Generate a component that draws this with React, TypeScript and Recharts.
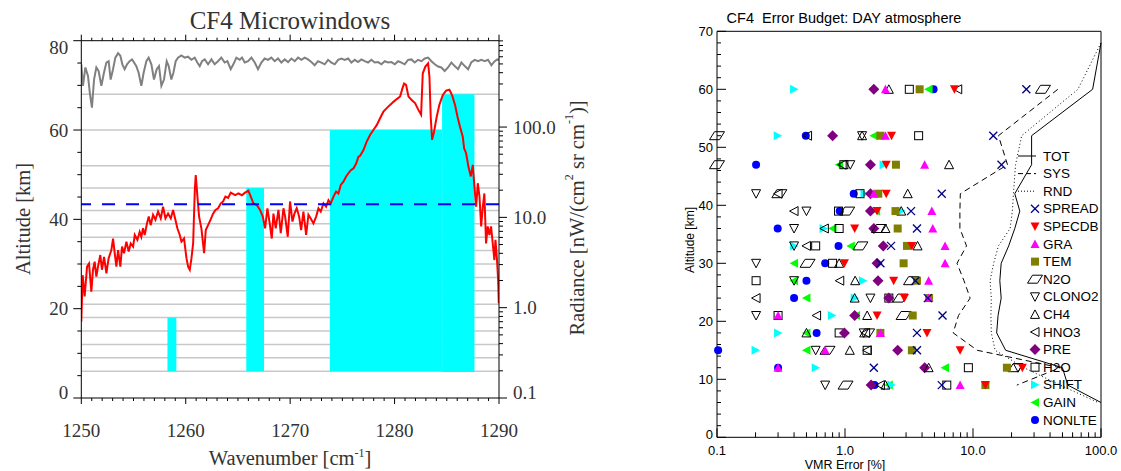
import React from 'react';
import {
  ComposedChart,
  Line,
  XAxis,
  YAxis,
  ReferenceArea,
  ReferenceLine,
  Scatter,
  Legend,
  CartesianGrid,
} from 'recharts';

// ======================= LEFT PANEL DATA =======================
const wnTicks = Array.from({ length: 41 }, (_, i) => 1250 + i);
const wnMajor = [1250, 1260, 1270, 1280, 1290];
const altTicks = [0, 5, 10, 15, 20, 25, 30, 35, 40, 45, 50, 55, 60, 65, 70, 75, 80];
const altMajor = [0, 20, 40, 60, 80];
const radTicks = [
  0.1, 0.2, 0.3, 0.4, 0.5, 0.6, 0.7, 0.8, 0.9,
  1, 2, 3, 4, 5, 6, 7, 8, 9,
  10, 20, 30, 40, 50, 60, 70, 80, 90,
  100, 200, 300, 400, 500, 600, 700, 800, 900,
];
const radDecades = [0.1, 1, 10, 100];
const radDecadeLabels = ['0.1', '1.0', '10.0', '100.0'];
const tangentAltitudes = [6, 9, 12, 15, 18, 21, 24, 27, 30, 33, 36, 39, 42, 47, 52, 60, 68];
const windowFrom = [1258.25, 1265.8, 1273.8, 1284.55];
const windowTo = [1259.1, 1267.5, 1284.55, 1287.65];
const windowBottom = [6, 6, 6, 5.8];
const windowTop = [18, 47, 60, 68];
const noiseLevel = 14;

// CF4 radiance spectrum [wavenumber, nW/(cm2 sr cm-1)]
const cf4Spectrum: [number, number][] = [
  [1250.0, 0.7], [1250.13, 2.29], [1250.32, 1.33], [1250.55, 2.85], [1250.74, 3.08], [1250.96, 1.5],
  [1251.12, 2.63], [1251.28, 3.23], [1251.44, 2.21], [1251.6, 2.85], [1251.82, 3.83], [1251.98, 2.63],
  [1252.18, 3.66], [1252.4, 2.4], [1252.62, 3.53], [1252.88, 4.34], [1253.04, 5.83], [1253.2, 4.01],
  [1253.36, 2.85], [1253.52, 4.34], [1253.74, 2.85], [1253.9, 4.75], [1254.09, 4.01], [1254.32, 5.38],
  [1254.54, 4.19], [1254.73, 5.14], [1254.96, 4.75], [1255.12, 6.38], [1255.37, 5.64], [1255.59, 6.92],
  [1255.75, 6.1], [1255.91, 7.57], [1256.07, 6.38], [1256.29, 8.58], [1256.46, 10.2], [1256.65, 8.2],
  [1256.87, 10.7], [1257.1, 9.4], [1257.35, 11.6], [1257.61, 9.73], [1257.83, 13.1], [1258.06, 9.73],
  [1258.31, 11.0], [1258.57, 9.73], [1258.79, 12.1], [1259.01, 9.4], [1259.2, 7.57], [1259.43, 6.38],
  [1259.59, 5.38], [1259.84, 5.83], [1260.07, 3.53], [1260.23, 2.85], [1260.39, 2.63], [1260.55, 3.53],
  [1260.71, 5.14], [1260.87, 20.2], [1260.96, 29.4], [1261.12, 17.0], [1261.28, 10.2], [1261.5, 7.57],
  [1261.76, 4.01], [1261.92, 7.24], [1262.14, 8.2], [1262.37, 9.4], [1262.62, 11.0], [1262.85, 12.1],
  [1263.1, 12.6], [1263.36, 14.3], [1263.58, 15.0], [1263.8, 17.0], [1264.06, 16.4], [1264.31, 18.8],
  [1264.73, 17.6], [1265.05, 18.4], [1265.37, 17.6], [1265.68, 18.8], [1266.0, 19.7], [1266.23, 17.0],
  [1266.48, 14.3], [1266.8, 13.7], [1267.12, 12.1], [1267.38, 10.2], [1267.6, 7.57], [1267.82, 12.6],
  [1268.02, 8.99], [1268.24, 5.83], [1268.4, 11.0], [1268.62, 7.57], [1268.88, 12.1], [1269.1, 6.68],
  [1269.36, 12.6], [1269.52, 10.2], [1269.77, 6.1], [1269.99, 15.0], [1270.22, 8.99], [1270.41, 11.0],
  [1270.63, 12.6], [1270.86, 10.2], [1271.05, 7.24], [1271.27, 11.6], [1271.53, 6.38], [1271.75, 10.7],
  [1271.97, 9.73], [1272.23, 8.58], [1272.49, 10.2], [1272.71, 12.6], [1272.93, 11.6], [1273.19, 14.3],
  [1273.44, 13.1], [1273.67, 15.5], [1273.89, 14.3], [1274.15, 17.0], [1274.4, 19.3], [1274.62, 18.4],
  [1274.85, 22.9], [1275.1, 24.8], [1275.36, 28.4], [1275.58, 30.8], [1275.81, 33.3], [1276.06, 34.8],
  [1276.32, 39.5], [1276.54, 46.9], [1276.7, 48.0], [1277.02, 55.6], [1277.33, 69.0], [1277.65, 81.8],
  [1277.97, 92.9], [1278.29, 105], [1278.61, 125], [1278.93, 148], [1279.25, 162], [1279.57, 176],
  [1279.89, 190], [1280.21, 204], [1280.53, 218], [1280.75, 268], [1280.91, 303], [1281.1, 293],
  [1281.33, 218], [1281.64, 199], [1281.96, 184], [1282.28, 155], [1282.54, 137], [1282.7, 394],
  [1282.95, 468], [1283.21, 507], [1283.34, 360], [1283.46, 131], [1283.59, 72.3], [1283.78, 88.7],
  [1284.04, 131], [1284.29, 176], [1284.61, 225], [1284.93, 253], [1285.25, 259], [1285.51, 225],
  [1285.79, 176], [1286.02, 131], [1286.27, 100], [1286.53, 78.2], [1286.66, 58.2], [1286.85, 51.3],
  [1287.07, 36.5], [1287.3, 28.4], [1287.49, 38.2], [1287.65, 21.8], [1287.81, 13.1], [1287.97, 23.9],
  [1288.13, 17.0], [1288.29, 7.93], [1288.45, 13.1], [1288.6, 18.4], [1288.76, 5.14], [1288.92, 7.93],
  [1289.08, 6.38], [1289.24, 7.93], [1289.4, 5.14], [1289.56, 3.37], [1289.66, 5.64], [1289.79, 3.66],
  [1289.92, 2.02], [1289.98, 1.12],
];

// Total atmospheric radiance [wavenumber, nW/(cm2 sr cm-1)]
const atmSpectrum: [number, number][] = [
  [1250.0, 495], [1250.16, 286], [1250.39, 457], [1250.64, 368], [1250.83, 231], [1251.02, 164],
  [1251.22, 336], [1251.44, 457], [1251.66, 417], [1251.92, 286], [1252.17, 399], [1252.4, 518],
  [1252.62, 536], [1252.81, 336], [1253.04, 437], [1253.26, 587], [1253.52, 658], [1253.74, 615],
  [1253.93, 495], [1254.15, 437], [1254.38, 495], [1254.63, 536], [1254.86, 561], [1255.05, 518],
  [1255.27, 473], [1255.49, 399], [1255.75, 286], [1255.97, 399], [1256.23, 536], [1256.45, 587],
  [1256.71, 495], [1256.96, 336], [1257.22, 437], [1257.44, 473], [1257.67, 286], [1257.92, 336],
  [1258.18, 536], [1258.37, 473], [1258.62, 336], [1258.82, 399], [1259.04, 536], [1259.26, 587],
  [1259.58, 622], [1259.9, 587], [1260.22, 601], [1260.54, 555], [1260.86, 587], [1261.11, 518],
  [1261.34, 473], [1261.56, 536], [1261.82, 561], [1262.14, 495], [1262.46, 561], [1262.77, 495],
  [1263.09, 536], [1263.41, 587], [1263.73, 518], [1263.99, 536], [1264.31, 437], [1264.56, 495],
  [1264.85, 587], [1265.17, 555], [1265.39, 587], [1265.65, 518], [1265.97, 536], [1266.29, 587],
  [1266.61, 518], [1266.92, 437], [1267.24, 518], [1267.56, 574], [1267.88, 555], [1268.2, 587],
  [1268.52, 536], [1268.84, 574], [1269.16, 518], [1269.48, 561], [1269.8, 524], [1270.12, 574],
  [1270.44, 536], [1270.76, 587], [1271.08, 555], [1271.39, 587], [1271.71, 561], [1272.03, 524],
  [1272.35, 484], [1272.67, 536], [1272.99, 518], [1273.31, 495], [1273.63, 555], [1273.95, 518],
  [1274.27, 495], [1274.59, 555], [1274.91, 574], [1275.23, 555], [1275.55, 574], [1275.87, 518],
  [1276.19, 555], [1276.5, 524], [1276.82, 561], [1277.14, 536], [1277.46, 518], [1277.78, 555],
  [1278.1, 518], [1278.42, 524], [1278.74, 495], [1279.06, 536], [1279.38, 518], [1279.7, 524],
  [1280.02, 495], [1280.34, 536], [1280.66, 518], [1280.97, 495], [1281.29, 555], [1281.61, 561],
  [1281.93, 518], [1282.25, 555], [1282.57, 536], [1282.89, 574], [1283.21, 587], [1283.53, 536],
  [1283.85, 495], [1284.17, 468], [1284.48, 457], [1284.8, 417], [1285.12, 457], [1285.44, 518],
  [1285.76, 473], [1286.08, 437], [1286.4, 518], [1286.72, 473], [1287.04, 437], [1287.36, 524],
  [1287.68, 555], [1287.99, 536], [1288.31, 555], [1288.63, 536], [1288.95, 555], [1289.27, 484],
  [1289.59, 536], [1289.85, 561], [1290.0, 555],
];

// ======================= RIGHT PANEL DATA =======================
const errAltTicks = Array.from({ length: 36 }, (_, i) => i * 2);
const errAltMajor = [0, 10, 20, 30, 40, 50, 60, 70];
const errTicks = [
  0.1, 0.2, 0.3, 0.4, 0.5, 0.6, 0.7, 0.8, 0.9,
  1, 2, 3, 4, 5, 6, 7, 8, 9,
  10, 20, 30, 40, 50, 60, 70, 80, 90, 100,
];
const errDecades = [0.1, 1, 10, 100];
const errDecadeLabels = ['0.1', '1.0', '10.0', '100.0'];

const profileAlt = [68, 60, 52, 47, 42, 39, 36, 33, 30, 27, 24, 21, 18, 15, 12, 9, 6];
const totError = [100, 86, 28.7, 28.7, 21.2, 23.2, 21.2, 19.0, 16.6, 16.2, 16.6, 15.7, 15.3, 18.0, 50, 55, 100];
const sysError = [null, 46, 15.8, 18.6, 7.96, 7.9, 7.9, 8.9, 7.5, 8.5, 9.5, 7.7, 7.0, 10.8, 48, 22, null];
const rndError = [100, 66, 24, 21.5, 20.7, 20.3, 19.5, 15.8, 14.5, 13.6, 13.9, 13.8, 13.9, 14.9, 25, 48, 95];

const rowAlt = [60, 52, 47, 42, 39, 36, 33, 30, 27, 24, 21, 18, 15, 12, 9];
const SPREAD = [26.1, 14.4, 16.7, 5.7, 3.28, 3.65, 2.29, 1.89, 3.55, 4.44, 5.78, 3.65, 3.65, 1.68, 5.7];
const SPECDB = [7.16, 2.31, 2.1, 2.1, 1.78, 1.19, 3.33, 0.99, 2.4, 2.91, 1.78, 4.37, 7.93, 24.3, 12.5];
const GRA = [2.07, 2.07, 4.19, 1.68, 4.77, 4.85, 6.05, 6.05, 4.5, 4.5, 0.3, 1.89, 0.7, 0.3, 7.93];
const TEM = [3.83, 1.89, 2.5, 1.82, 2.48, 2.58, 3.05, 2.87, 3.65, 4.54, 3.38, 1.89, 3.33, 18.4, 12.5];
const N2O = [35.2, 0.1, 0.1, 0.307, 1.04, 1.84, 1.32, 0.51, 3.28, 2.71, 2.87, 1.49, 0.73, 21.5, 1.01];
const CLONO2 = [null, 1.36, 1.1, 0.202, 0.5, 0.4, 0.4, 0.202, 0.4, 1.58, 0.202, 1.4, 0.59, 22.5, 0.7];
const CH4 = [2.2, 1.36, 6.5, 3.09, 2.75, 2.07, 3.69, 0.9, 1.2, 1.19, 1.49, 0.5, 1.09, 4.5, 2.07];
const HNO3 = [7.6, 0.51, 0.95, 0.3, 0.4, 0.69, 0.5, null, 0.91, 0.202, 0.6, 1.45, 1.49, null, 1.89];
const PRE = [1.68, 0.8, 1.58, 1.58, 1.58, 1.68, 1.99, 1.78, 1.81, 2.2, 1.19, 0.99, 2.58, 4.19, 1.6];
const H2O = [3.18, 3.76, 0.98, 1.31, 0.89, 0.9, 0.59, 0.8, 0.202, 2.2, 0.3, 0.9, 1.49, 9.2, 6.24];
const SHIFT = [0.4, 0.298, 2.0, 1.42, 2.75, 0.68, 0.4, null, 1.38, 1.19, 0.79, 0.3, 0.2, 0.59, 2.3];
const GAIN = [4.5, 1.68, 0.9, null, 1.75, 0.8, 1.11, 0.4, 0.4, 0.5, 1.22, 0.5, 0.5, 6.05, 2.2];
const NONLTE = [4.92, 0.494, 0.202, 1.17, 0.91, 0.298, 0.89, 0.7, 0.5, 0.4, null, 0.6, 0.102, 0.3, 1.7];

// ======================= STYLES =======================
const serif = '"Liberation Serif", "Times New Roman", Times, serif';
const sans = '"Liberation Sans", Arial, Helvetica, sans-serif';
const leftText = '#333';

type Cat = { name: string; values: (number | null)[]; kind: string; filled: boolean; color: string };
const categories: Cat[] = [
  { name: 'SPREAD', values: SPREAD, kind: 'cross', filled: false, color: '#000080' },
  { name: 'SPECDB', values: SPECDB, kind: 'triDown', filled: true, color: '#ff0000' },
  { name: 'GRA', values: GRA, kind: 'triUp', filled: true, color: '#ff00ff' },
  { name: 'TEM', values: TEM, kind: 'square', filled: true, color: '#808000' },
  { name: 'N2O', values: N2O, kind: 'para', filled: false, color: '#000000' },
  { name: 'CLONO2', values: CLONO2, kind: 'triDown', filled: false, color: '#000000' },
  { name: 'CH4', values: CH4, kind: 'triUp', filled: false, color: '#000000' },
  { name: 'HNO3', values: HNO3, kind: 'triLeft', filled: false, color: '#000000' },
  { name: 'PRE', values: PRE, kind: 'diamond', filled: true, color: '#800080' },
  { name: 'H2O', values: H2O, kind: 'square', filled: false, color: '#000000' },
  { name: 'SHIFT', values: SHIFT, kind: 'triRight', filled: true, color: '#00ffff' },
  { name: 'GAIN', values: GAIN, kind: 'triLeft', filled: true, color: '#00ff00' },
  { name: 'NONLTE', values: NONLTE, kind: 'circle', filled: true, color: '#0000ff' },
];

const toXY = (pairs: [number, number][]) => pairs.map(([wn, rad]) => ({ wn, rad }));
const profile = (vals: (number | null)[]) =>
  profileAlt.map((alt, i) => ({ alt, v: vals[i] })).filter((d) => d.v !== null);
const markerData = (vals: (number | null)[]) =>
  rowAlt.map((alt, i) => ({ alt, v: vals[i] })).filter((d) => d.v !== null);

// ======================= MARKERS =======================
function Marker({ kind, filled, color, cx, cy }: { kind: string; filled: boolean; color: string; cx: number; cy: number }) {
  const s = 4.5;
  const paint = filled
    ? { fill: color, stroke: 'none' }
    : { fill: 'none', stroke: color, strokeWidth: 1 };
  const pts = (arr: number[][]) => arr.map(([x, y]) => `${cx + x},${cy + y}`).join(' ');
  switch (kind) {
    case 'cross':
      return (
        <g stroke={color} strokeWidth={1.3}>
          <line x1={cx - 4} y1={cy - 4} x2={cx + 4} y2={cy + 4} />
          <line x1={cx - 4} y1={cy + 4} x2={cx + 4} y2={cy - 4} />
        </g>
      );
    case 'triDown':
      return <polygon points={pts([[-s, -4], [s, -4], [0, s]])} {...paint} />;
    case 'triUp':
      return <polygon points={pts([[-s, 4], [s, 4], [0, -s]])} {...paint} />;
    case 'triLeft':
      return <polygon points={pts([[4, -s], [4, s], [-s, 0]])} {...paint} />;
    case 'triRight':
      return <polygon points={pts([[-4, -s], [-4, s], [s, 0]])} {...paint} />;
    case 'square':
      return <rect x={cx - 4} y={cy - 4} width={8} height={8} {...paint} />;
    case 'diamond':
      return <polygon points={pts([[0, -5.5], [5.5, 0], [0, 5.5], [-5.5, 0]])} {...paint} />;
    case 'circle':
      return <circle cx={cx} cy={cy} r={4} {...paint} />;
    case 'para':
      return <polygon points={pts([[-7.5, 4], [-2.5, -4], [7.5, -4], [2.5, 4]])} {...paint} />;
    default:
      return <g />;
  }
}

// ======================= LEFT PANEL TICKS =======================
function WnBottomTick(p: any) {
  const { x, y, payload } = p;
  const v = payload.value;
  const major = wnMajor.includes(v);
  return (
    <g>
      <line x1={x} x2={x} y1={y} y2={y + (major ? 6 : 3)} stroke="#000" />
      {major && (
        <text x={x} y={y + 39} textAnchor="middle" fontFamily={serif} fontSize={19} fill={leftText}>
          {v}
        </text>
      )}
    </g>
  );
}
function WnTopTick(p: any) {
  const { x, y, payload } = p;
  const major = wnMajor.includes(payload.value);
  return <line x1={x} x2={x} y1={y} y2={y - (major ? 6 : 3)} stroke="#000" />;
}
function AltLeftTick(p: any) {
  const { x, y, payload } = p;
  const v = payload.value;
  const major = altMajor.includes(v);
  const shift = v === 80 ? 7 : v === 0 ? -6 : 0;
  return (
    <g>
      <line x1={x - (major ? 8 : 4)} x2={x} y1={y} y2={y} stroke="#000" />
      {major && (
        <text x={x - 13} y={y + 6.5 + shift} textAnchor="end" fontFamily={serif} fontSize={19} fill={leftText}>
          {v}
        </text>
      )}
    </g>
  );
}
function RadRightTick(p: any) {
  const { x, y, payload } = p;
  const idx = radDecades.indexOf(payload.value);
  const major = idx >= 0;
  const shift = idx === 0 ? -6 : 0;
  return (
    <g>
      <line x1={x} x2={x + (major ? 8 : 4)} y1={y} y2={y} stroke="#000" />
      {major && (
        <text x={x + 14} y={y + 6.5 + shift} textAnchor="start" fontFamily={serif} fontSize={19} fill={leftText}>
          {radDecadeLabels[idx]}
        </text>
      )}
    </g>
  );
}

function LeftPanel() {
  return (
    <ComposedChart width={620} height={471} margin={{ top: 10.7, right: 61, bottom: 33, left: 11.3 }}>
      <XAxis
        xAxisId="wnB"
        type="number"
        dataKey="wn"
        domain={[1250, 1290]}
        ticks={wnTicks}
        interval={0}
        tickSize={0}
        tickMargin={0}
        tickLine={false}
        tick={(p: any) => <WnBottomTick {...p} />}
        height={40}
        axisLine={{ stroke: '#000' }}
        allowDataOverflow
        label={() => (
          <text x={290} y={465} textAnchor="middle" fontFamily={serif} fontSize={20.5} fill={leftText}>
            Wavenumber [cm
            <tspan dy={-8} fontSize={12}>-1</tspan>
            <tspan dy={8}>]</tspan>
          </text>
        )}
      />
      <XAxis
        xAxisId="wnT"
        orientation="top"
        type="number"
        dataKey="wn"
        domain={[1250, 1290]}
        ticks={wnTicks}
        interval={0}
        tickSize={0}
        tickMargin={0}
        tickLine={false}
        tick={(p: any) => <WnTopTick {...p} />}
        height={30}
        axisLine={{ stroke: '#000' }}
        allowDataOverflow
        label={() => (
          <text x={290} y={29} textAnchor="middle" fontFamily={serif} fontSize={25} fill={leftText}>
            CF4 Microwindows
          </text>
        )}
      />
      <YAxis
        yAxisId="alt"
        type="number"
        domain={[0, 80]}
        ticks={altTicks}
        interval={0}
        tickSize={0}
        tickMargin={0}
        tickLine={false}
        tick={(p: any) => <AltLeftTick {...p} />}
        width={70}
        axisLine={{ stroke: '#000' }}
        allowDataOverflow
        label={() => (
          <text
            x={23}
            y={219}
            transform="rotate(-90, 23, 219)"
            textAnchor="middle"
            dominantBaseline="central"
            fontFamily={serif}
            fontSize={20.5}
            fill={leftText}
          >
            Altitude [km]
          </text>
        )}
      />
      <YAxis
        yAxisId="rad"
        orientation="right"
        type="number"
        scale="log"
        domain={[0.1, 904]}
        ticks={radTicks}
        interval={0}
        tickSize={0}
        tickMargin={0}
        tickLine={false}
        tick={(p: any) => <RadRightTick {...p} />}
        width={60}
        axisLine={{ stroke: '#000' }}
        allowDataOverflow
        label={() => (
          <text
            x={577}
            y={218}
            transform="rotate(-90, 577, 218)"
            textAnchor="middle"
            dominantBaseline="central"
            fontFamily={serif}
            fontSize={20.5}
            fill={leftText}
          >
            Radiance [nW/(cm
            <tspan dy={-8} fontSize={12}>2</tspan>
            <tspan dy={8}> sr cm</tspan>
            <tspan dy={-8} fontSize={12}>-1</tspan>
            <tspan dy={8}>)]</tspan>
          </text>
        )}
      />
      <CartesianGrid
        xAxisId="wnB"
        yAxisId="alt"
        vertical={false}
        horizontalValues={tangentAltitudes}
        stroke="#c8c8c8"
        strokeWidth={1.5}
      />
      {windowFrom.map((from, i) => (
        <ReferenceArea
          key={`w${i}`}
          xAxisId="wnB"
          yAxisId="alt"
          x1={from}
          x2={windowTo[i]}
          y1={windowBottom[i]}
          y2={windowTop[i]}
          fill="#00ffff"
          fillOpacity={1}
          stroke="none"
        />
      ))}
      <Line
        xAxisId="wnB"
        yAxisId="rad"
        data={toXY(atmSpectrum)}
        dataKey="rad"
        stroke="#808080"
        strokeWidth={2}
        dot={false}
        isAnimationActive={false}
        type="linear"
      />
      <Line
        xAxisId="wnB"
        yAxisId="rad"
        data={toXY(cf4Spectrum)}
        dataKey="rad"
        stroke="#ff0000"
        strokeWidth={2}
        dot={false}
        isAnimationActive={false}
        type="linear"
      />
      <ReferenceLine
        xAxisId="wnB"
        yAxisId="rad"
        y={noiseLevel}
        stroke="#0000ff"
        strokeWidth={2}
        strokeDasharray="13 11"
      />
    </ComposedChart>
  );
}

// ======================= RIGHT PANEL TICKS =======================
function ErrBottomTick(p: any) {
  const { x, y, payload } = p;
  const idx = errDecades.indexOf(payload.value);
  const major = idx >= 0;
  return (
    <g>
      <line x1={x} x2={x} y1={y} y2={y - (major ? 9 : 5)} stroke="#000" />
      {major && (
        <text x={x} y={y + 17.5} textAnchor="middle" fontFamily={sans} fontSize={13} fill="#000">
          {errDecadeLabels[idx]}
        </text>
      )}
    </g>
  );
}
function ErrTopTick(p: any) {
  const { x, y, payload } = p;
  const major = errDecades.includes(payload.value);
  return <line x1={x} x2={x} y1={y} y2={y + (major ? 9 : 5)} stroke="#000" />;
}
function ErrAltLeftTick(p: any) {
  const { x, y, payload } = p;
  const v = payload.value;
  const major = errAltMajor.includes(v);
  const shift = v === 0 ? -3 : 0;
  return (
    <g>
      <line x1={x} x2={x + (major ? 9 : 4)} y1={y} y2={y} stroke="#000" />
      {major && (
        <text x={x - 4} y={y + 4.6 + shift} textAnchor="end" fontFamily={sans} fontSize={13} fill="#000">
          {v}
        </text>
      )}
    </g>
  );
}
function ErrAltRightTick(p: any) {
  const { x, y, payload } = p;
  const major = errAltMajor.includes(payload.value);
  return <line x1={x} x2={x - (major ? 9 : 4)} y1={y} y2={y} stroke="#000" />;
}

function ErrLegend() {
  const rowH = 17.6;
  const y0 = 12;
  const lineItems = [
    { name: 'TOT', dash: undefined as string | undefined },
    { name: 'SYS', dash: '5 3' },
    { name: 'RND', dash: '1 2' },
  ];
  return (
    <svg width={100} height={300} style={{ display: 'block', overflow: 'visible' }}>
      {lineItems.map((it, i) => (
        <g key={it.name}>
          <line x1={8} x2={26} y1={y0 + i * rowH} y2={y0 + i * rowH} stroke="#000" strokeWidth={1} strokeDasharray={it.dash} />
          <text x={33} y={y0 + i * rowH} dominantBaseline="central" fontFamily={sans} fontSize={13.5} fill="#000">
            {it.name}
          </text>
        </g>
      ))}
      {categories.map((c, j) => {
        const yy = y0 + (j + 3) * rowH;
        return (
          <g key={c.name}>
            <Marker kind={c.kind} filled={c.filled} color={c.color} cx={25} cy={yy} />
            <text x={33} y={yy} dominantBaseline="central" fontFamily={sans} fontSize={13.5} fill="#000">
              {c.name}
            </text>
          </g>
        );
      })}
    </svg>
  );
}

function RightPanel() {
  const drawOrder = [...categories].reverse();
  return (
    <ComposedChart width={501} height={471} margin={{ top: 6.3, right: 0, bottom: 3.7, left: 57 }}>
      <XAxis
        xAxisId="eb"
        type="number"
        dataKey="v"
        scale="log"
        domain={[0.1, 100]}
        ticks={errTicks}
        interval={0}
        tickSize={0}
        tickMargin={0}
        tickLine={false}
        tick={(p: any) => <ErrBottomTick {...p} />}
        height={30}
        axisLine={{ stroke: '#000' }}
        label={() => (
          <text x={225} y={469} textAnchor="middle" fontFamily={sans} fontSize={12.5} fill="#000">
            VMR Error [%]
          </text>
        )}
      />
      <XAxis
        xAxisId="et"
        orientation="top"
        type="number"
        dataKey="v"
        scale="log"
        domain={[0.1, 100]}
        ticks={errTicks}
        interval={0}
        tickSize={0}
        tickMargin={0}
        tickLine={false}
        tick={(p: any) => <ErrTopTick {...p} />}
        height={25}
        axisLine={{ stroke: '#000' }}
        label={() => (
          <text x={224} y={23} textAnchor="middle" fontFamily={sans} fontSize={14.5} fill="#000">
            {'CF4\u00a0 Error Budget: DAY atmosphere'}
          </text>
        )}
      />
      <YAxis
        yAxisId="ea"
        type="number"
        dataKey="alt"
        domain={[0, 70]}
        ticks={errAltTicks}
        interval={0}
        tickSize={0}
        tickMargin={0}
        tickLine={false}
        tick={(p: any) => <ErrAltLeftTick {...p} />}
        width={40}
        axisLine={{ stroke: '#000' }}
        label={() => (
          <text
            x={70}
            y={240}
            transform="rotate(-90, 70, 240)"
            textAnchor="middle"
            dominantBaseline="central"
            fontFamily={sans}
            fontSize={12}
            fill="#000"
          >
            Altitude [km]
          </text>
        )}
      />
      <YAxis
        yAxisId="ear"
        orientation="right"
        type="number"
        dataKey="alt"
        domain={[0, 70]}
        ticks={errAltTicks}
        interval={0}
        tickSize={0}
        tickMargin={0}
        tickLine={false}
        tick={(p: any) => <ErrAltRightTick {...p} />}
        width={20}
        axisLine={{ stroke: '#000' }}
      />
      <Line
        xAxisId="eb"
        yAxisId="ea"
        data={profile(totError)}
        dataKey="alt"
        stroke="#000"
        strokeWidth={1}
        dot={false}
        isAnimationActive={false}
        type="linear"
      />
      <Line
        xAxisId="eb"
        yAxisId="ea"
        data={profile(sysError)}
        dataKey="alt"
        stroke="#000"
        strokeWidth={1}
        strokeDasharray="6 4"
        dot={false}
        isAnimationActive={false}
        type="linear"
      />
      <Line
        xAxisId="eb"
        yAxisId="ea"
        data={profile(rndError)}
        dataKey="alt"
        stroke="#000"
        strokeWidth={1}
        strokeDasharray="1 2.5"
        dot={false}
        isAnimationActive={false}
        type="linear"
      />
      {drawOrder.map((c) => (
        <Scatter
          key={c.name}
          name={c.name}
          xAxisId="eb"
          yAxisId="ea"
          data={markerData(c.values)}
          isAnimationActive={false}
          shape={(p: any) => <Marker kind={c.kind} filled={c.filled} color={c.color} cx={p.cx} cy={p.cy} />}
        />
      ))}
      <Legend
        layout="vertical"
        align="center"
        verticalAlign="middle"
        content={() => <ErrLegend />}
        wrapperStyle={{ position: 'absolute', left: 390, top: 144, width: 100, height: 300 }}
      />
    </ComposedChart>
  );
}

export default function App() {
  return (
    <div
      style={{
        position: 'absolute',
        left: 0,
        top: 0,
        width: 1121,
        height: 471,
        background: '#fff',
        overflow: 'hidden',
      }}
    >
      <div style={{ position: 'absolute', left: 0, top: 0 }}>
        <LeftPanel />
      </div>
      <div style={{ position: 'absolute', left: 620, top: 0 }}>
        <RightPanel />
      </div>
    </div>
  );
}
